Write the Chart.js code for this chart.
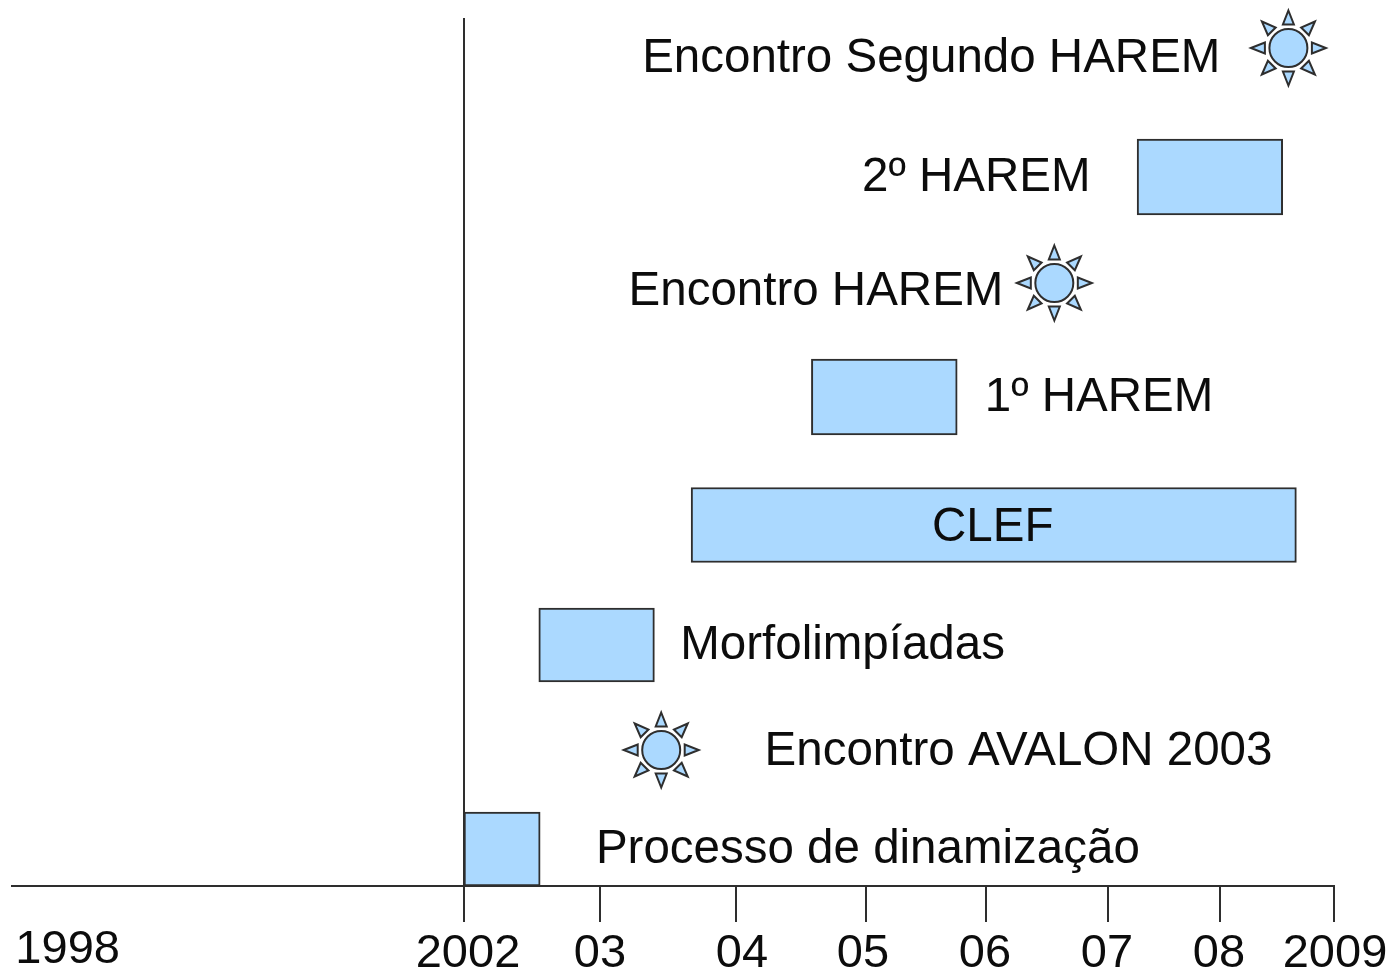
<!DOCTYPE html>
<html><head><meta charset="utf-8">
<script src="https://cdn.jsdelivr.net/npm/chart.js@4/dist/chart.umd.min.js"></script>
<style>html,body{margin:0;padding:0;background:#fff;overflow:hidden}canvas{display:block}</style>
</head><body><canvas id="c" width="1393" height="974"></canvas>
<script>
// Timeline ticks
const tickYears  = [1998, 2002, 2003, 2004, 2005, 2006, 2007, 2008, 2009];
const tickLabels = ['1998', '2002', '03', '04', '05', '06', '07', '08', '2009'];
// Bars (periods)
const barNames  = ['Processo de dinamização', 'Morfolimpíadas', 'CLEF', '1º HAREM', '2º HAREM'];
const barStart  = [2002.00, 2002.55, 2003.67, 2004.58, 2007.26];
const barEnd    = [2002.56, 2003.40, 2008.67, 2005.76, 2008.55];
const barLevel  = [0.37, 2.41, 3.61, 4.89, 7.09];
// Suns (single events)
const eventNames = ['Encontro AVALON 2003', 'Encontro HAREM', 'Encontro Segundo HAREM'];
const eventYear  = [2003.45, 2006.56, 2008.60];
const eventLevel = [1.36, 6.03, 8.38];
// Text captions
const captionText  = ['Encontro Segundo HAREM', '2º HAREM', 'Encontro HAREM', '1º HAREM', 'CLEF', 'Morfolimpíadas', 'Encontro AVALON 2003', 'Processo de dinamização'];
const captionYear  = [2003.31, 2004.97, 2003.21, 2005.99, 2005.55, 2003.59, 2004.22, 2002.97];
const captionLevel = [8.14, 6.95, 5.81, 4.75, 3.45, 2.27, 1.21, 0.23];

// Drawing sizes and the not-to-scale timeline: each year has its own length.
const barThick = [74, 74, 75, 76, 76];
const axisStart = 1997.45;
const axisStops = [1997.45, 2002, 2003, 2004, 2005, 2006, 2007, 2008, 2009];
const axisSpans = [452, 136, 136, 130, 120, 122, 112, 114];
const labelNudgeX = [1, 4, 0, 6, -3, -1, -1, -1, 1];
const labelNudgeY = [-4, 0, 0, 0, 0, 0, 0, 0, 0];

class YearScale extends Chart.LinearScale {
  static id = 'yearScale';
  static defaults = Chart.LinearScale.defaults;
  _frac(v) {
    const total = axisSpans.reduce((a, b) => a + b, 0);
    let acc = 0;
    for (let i = 0; i < axisSpans.length; i++) {
      if (v <= axisStops[i + 1] || i === axisSpans.length - 1) {
        return (acc + (v - axisStops[i]) / (axisStops[i + 1] - axisStops[i]) * axisSpans[i]) / total;
      }
      acc += axisSpans[i];
    }
    return 1;
  }
  getPixelForValue(v) {
    return v === null || isNaN(v) ? NaN : this.getPixelForDecimal(this._frac(v));
  }
  getValueForPixel(p) {
    const total = axisSpans.reduce((a, b) => a + b, 0);
    let d = this.getDecimalForPixel(p) * total, i = 0;
    while (i < axisSpans.length - 1 && d > axisSpans[i]) { d -= axisSpans[i]; i++; }
    return axisStops[i] + d / axisSpans[i] * (axisStops[i + 1] - axisStops[i]);
  }
  _computeLabelItems(area) {
    const items = super._computeLabelItems(area);
    items.forEach((it, i) => {
      it.options.translation = [it.options.translation[0] + labelNudgeX[i], it.options.translation[1] + labelNudgeY[i]];
    });
    return items;
  }
}
Chart.register(YearScale);

const FILL = '#abd9ff', EDGE = '#2e2e2e', INK = '#0c0c0c';
const FONT = '"Liberation Sans", Arial, sans-serif';

const captionsAndRays = {
  id: 'captionsAndRays',
  afterDatasetsDraw(chart) {
    const { ctx, scales: { x, y } } = chart;
    ctx.save();
    eventYear.forEach((yr, i) => {
      const cx = x.getPixelForValue(yr), cy = y.getPixelForValue(eventLevel[i]);
      for (let k = 0; k < 8; k++) {
        const a = k * Math.PI / 4;
        const ux = Math.cos(a), uy = Math.sin(a), r0 = 23.5, r1 = 37.5, hw = 5.5;
        ctx.beginPath();
        ctx.moveTo(cx + ux * r1, cy + uy * r1);
        ctx.lineTo(cx + ux * r0 - uy * hw, cy + uy * r0 + ux * hw);
        ctx.lineTo(cx + ux * r0 + uy * hw, cy + uy * r0 - ux * hw);
        ctx.closePath();
        ctx.fillStyle = FILL; ctx.fill();
        ctx.strokeStyle = EDGE; ctx.lineWidth = 2; ctx.stroke();
      }
    });
    ctx.font = '47.5px ' + FONT;
    ctx.fillStyle = INK;
    ctx.textAlign = 'left';
    ctx.textBaseline = 'alphabetic';
    captionText.forEach((t, i) => {
      ctx.fillText(t, x.getPixelForValue(captionYear[i]), y.getPixelForValue(captionLevel[i]));
    });
    ctx.restore();
  }
};

new Chart(document.getElementById('c'), {
  type: 'bar',
  data: {
    datasets: [
      ...barStart.map((s, i) => ({
        type: 'bar', label: barNames[i], indexAxis: 'y', grouped: false,
        data: [{ x: [s, barEnd[i]], y: barLevel[i] }],
        backgroundColor: FILL, borderColor: EDGE, borderWidth: 2,
        barThickness: barThick[i], borderSkipped: false, order: 2
      })),
      {
        type: 'scatter', label: 'Encontros',
        data: eventYear.map((v, i) => ({ x: v, y: eventLevel[i] })),
        pointStyle: 'circle', pointRadius: 19, pointHoverRadius: 19,
        backgroundColor: FILL, borderColor: EDGE, borderWidth: 2, order: 1
      }
    ]
  },
  options: {
    responsive: false,
    animation: false,
    events: [],
    layout: { autoPadding: false, padding: { left: 12, right: 59, top: 18, bottom: 0 } },
    plugins: { legend: { display: false }, title: { display: false }, tooltip: { enabled: false } },
    scales: {
      x: {
        type: 'yearScale', position: 'bottom', offset: false, stacked: false,
        min: axisStart, max: 2009,
        afterBuildTicks: s => { s.ticks = tickYears.map(value => ({ value })); },
        afterFit: s => { s.height = 88; s.paddingLeft = 0; s.paddingRight = 0; s.paddingTop = 0; s.paddingBottom = 0; },
        border: { display: true, color: EDGE, width: 2 },
        grid: {
          offset: false, lineWidth: 2, tickLength: 36, drawTicks: true,
          color: c => (c.tick && c.tick.value === 2002 ? EDGE : 'rgba(0,0,0,0)'),
          tickColor: c => (c.tick && c.tick.value === 1998 ? 'rgba(0,0,0,0)' : EDGE)
        },
        ticks: {
          autoSkip: false, maxRotation: 0, minRotation: 0, padding: 4,
          color: INK, font: { family: FONT, size: 47 },
          callback: (v, i) => tickLabels[i]
        }
      },
      y: { type: 'linear', display: false, offset: false, min: 0, max: 8.68, grid: { display: false, offset: false } }
    }
  },
  plugins: [captionsAndRays]
});
</script>
</body></html>
